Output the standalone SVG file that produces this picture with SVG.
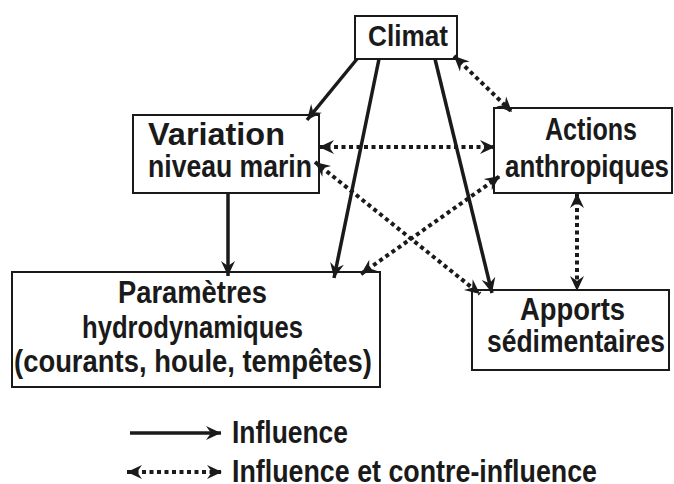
<svg xmlns="http://www.w3.org/2000/svg" width="674" height="484" viewBox="0 0 674 484">
<style>
.box{fill:#fff;stroke:#1a1a1a;stroke-width:2}
.t{font-family:"Liberation Sans",Arial,sans-serif;font-weight:bold;font-size:32px;fill:#1a1a1a}
.s{stroke:#1a1a1a;stroke-width:3.5;fill:none;marker-end:url(#ah)}
.d{stroke:#1a1a1a;stroke-width:4;stroke-dasharray:4 3.5;fill:none;marker-end:url(#ah);marker-start:url(#ah)}
</style>
<defs>
<marker id="ah" markerUnits="userSpaceOnUse" markerWidth="18" markerHeight="16" viewBox="-16 -8 18 16" refX="0" refY="0" orient="auto-start-reverse">
<path d="M0,0 L-15,-7 L-10,0 L-15,7 Z" fill="#1a1a1a"/>
</marker>
</defs>
<rect width="674" height="484" fill="#fff"/>
<g id="climat"><rect class="box" x="355" y="16" width="102" height="43"/><text class="t" x="368" y="46" textLength="80" lengthAdjust="spacingAndGlyphs" style="font-size:29px">Climat</text></g>
<g id="variation"><rect class="box" x="133" y="115" width="186" height="78"/><text class="t" x="148" y="145" textLength="137" lengthAdjust="spacingAndGlyphs">Variation</text><text class="t" x="148" y="177" textLength="164" lengthAdjust="spacingAndGlyphs">niveau marin</text></g>
<g id="actions"><rect class="box" x="494" y="108" width="178" height="85"/><text class="t" x="545" y="140" textLength="92" lengthAdjust="spacingAndGlyphs">Actions</text><text class="t" x="505" y="177" textLength="164" lengthAdjust="spacingAndGlyphs">anthropiques</text></g>
<g id="parametres"><rect class="box" x="12" y="272" width="368" height="115"/><text class="t" x="118" y="303" textLength="149" lengthAdjust="spacingAndGlyphs">Paramètres</text><text class="t" x="82" y="338" textLength="221" lengthAdjust="spacingAndGlyphs">hydrodynamiques</text><text class="t" x="14" y="372" textLength="358" lengthAdjust="spacingAndGlyphs">(courants, houle, tempêtes)</text></g>
<g id="apports"><rect class="box" x="472" y="290" width="197" height="80"/><text class="t" x="520" y="320" textLength="105" lengthAdjust="spacingAndGlyphs">Apports</text><text class="t" x="487" y="352" textLength="178" lengthAdjust="spacingAndGlyphs">sédimentaires</text></g>
<g id="connectors">
<line class="s" x1="357" y1="59" x2="307" y2="120"/>
<line class="s" x1="379" y1="59" x2="334" y2="278"/>
<line class="s" x1="435" y1="59" x2="492" y2="293"/>
<line class="s" x1="228" y1="193" x2="228" y2="276"/>
<line class="d" x1="454" y1="56" x2="512" y2="112"/>
<line class="d" x1="319" y1="147" x2="495" y2="147"/>
<line class="d" x1="315" y1="162" x2="480" y2="294"/>
<line class="d" x1="361" y1="274" x2="500" y2="176"/>
<line class="d" x1="577" y1="193" x2="577" y2="291"/>
</g>
<g id="legend">
<line class="s" x1="130" y1="433" x2="221" y2="433"/>
<line class="d" x1="127" y1="472" x2="222" y2="472"/>
<text class="t" x="232" y="443" textLength="116" lengthAdjust="spacingAndGlyphs">Influence</text>
<text class="t" x="232" y="482" textLength="365" lengthAdjust="spacingAndGlyphs">Influence et contre-influence</text>
</g>
</svg>
